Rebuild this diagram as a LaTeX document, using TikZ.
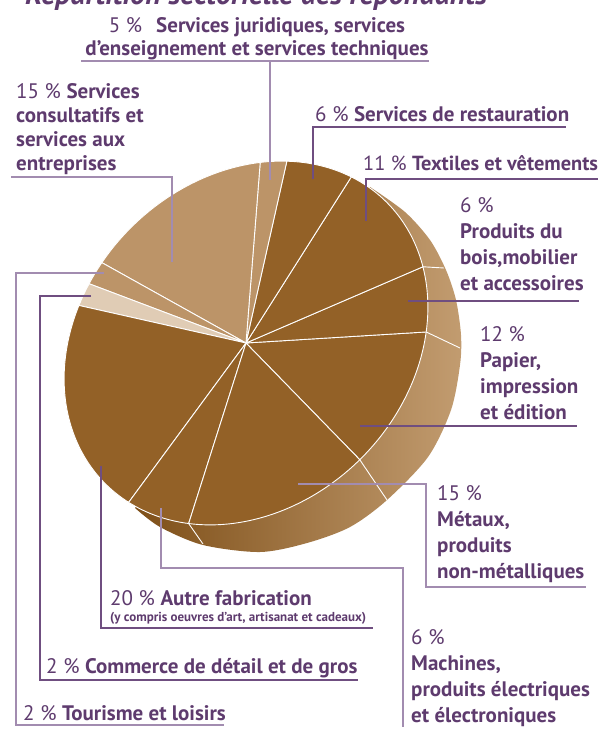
\documentclass[tikz,border=0pt]{standalone}
\usepackage{fontspec}
\setmainfont{PT Sans}
\usetikzlibrary{positioning}

\definecolor{txtpurple}{HTML}{5E3B6E}
\definecolor{leaddark}{HTML}{6F4E80}
\definecolor{leadlight}{HTML}{A28CB0}
\definecolor{piedark}{HTML}{936127}
\definecolor{pietan}{HTML}{BC9468}
\definecolor{pielight}{HTML}{E0CCB5}
\definecolor{sideleft}{HTML}{7E4F18}
\definecolor{sideright}{HTML}{C29C70}

\begin{document}
\begin{tikzpicture}[
  x=1pt, y=1pt,
  tag/.style={anchor=base west, inner sep=0pt, text=txtpurple, align=left,
              font=\fontsize{21}{26}\selectfont},
  leader/.style={line width=1.2pt, draw=leaddark},
  leaderlt/.style={line width=1.2pt, draw=leadlight},
  slice/.style={draw=white, line width=0.9pt}
]
\useasboundingbox (0,0) rectangle (603,-731);

\node[tag, font=\fontsize{30}{34}\selectfont\bfseries\itshape] (title) at (25,-4)
  {Répartition sectorielle des répondants};

% side of the disc
\shade[left color=sideleft, right color=sideright] (246,-343) -- plot[smooth] coordinates
  {(370,-187) (405,-212) (430,-240) (446,-270) (456,-300) (461,-335) (460,-365)
   (451,-410) (428,-457) (387,-500) (350,-527) (307,-543) (260,-552) (203,-545)
   (160,-527) (135,-508)} -- cycle;

% top face, slices counter clockwise
\begin{scope}[shift={(246,-343)}, rotate=45]
  \foreach \a/\b/\c in {-90.6/-47.2/piedark, -47.2/-25.9/piedark, -25.9/15.3/piedark,
      15.3/37.7/piedark, 37.7/46.2/pietan, 46.2/103.1/pietan, 103.1/110.3/pietan,
      110.3/117.4/pielight, 117.4/190.5/piedark, 190.5/212.3/piedark, 212.3/269.4/piedark}
    \filldraw[slice, fill=\c] (0,0) -- (\a:199 and 163)
      arc[start angle=\a, end angle=\b, x radius=199, y radius=163] -- cycle;
  \coordinate (edgeTB) at (-25.9:199 and 163);
  \coordinate (edgeBP) at (-47.2:199 and 163);
  \coordinate (edgePM) at (-90.6:199 and 163);
  \coordinate (edgeMM) at (212.3:199 and 163);
\end{scope}
\coordinate (sideTB) at (444,-268);
\coordinate (sideBP) at (460,-348);
\coordinate (sidePM) at (387,-500);
\coordinate (sideMM) at (203,-544);
\draw[slice] (edgeTB) -- (sideTB) (edgeBP) -- (sideBP) (edgePM) -- (sidePM) (edgeMM) -- (sideMM);

% labels (base = last line)
\node[tag, anchor=base, align=center, font=\fontsize{21}{23}\selectfont] (jur) at (257,-55)
  {5 \%\hspace{14pt}\textbf{Services juridiques, services}\\\textbf{d’enseignement et services techniques}};
\node[tag, font=\fontsize{21}{24}\selectfont] (cons) at (16,-170)
  {15 \% \textbf{Services}\\\textbf{consultatifs et}\\\textbf{services aux}\\\textbf{entreprises}};
\node[tag] (rest) at (315,-121) {6 \% \textbf{Services de restauration}};
\node[tag, font=\fontsize{20.4}{26}\selectfont] (text) at (363,-170) {11 \% \textbf{Textiles et vêtements}};
\node[tag] (bois) at (460,-290)
  {6 \%\\\textbf{Produits du}\\\textbf{bois,mobilier}\\\textbf{et accessoires}};
\node[tag] (pap) at (480,-419) {12 \%\\\textbf{Papier,}\\\textbf{impression}\\\textbf{et édition}};
\node[tag] (met) at (437,-578) {15 \%\\\textbf{Métaux,}\\\textbf{produits}\\\textbf{non-métalliques}};
\node[tag] (mach) at (411,-722)
  {6 \%\\\textbf{Machines,}\\\textbf{produits électriques}\\\textbf{et électroniques}};
\node[tag] (autre) at (110,-605) {20 \% \textbf{Autre fabrication}};
\node[tag, font=\fontsize{13}{15}\selectfont\bfseries] (autresub) at (110,-621)
  {(y compris oeuvres d’art, artisanat et cadeaux)};
\node[tag] (comm) at (46,-673) {2 \% \textbf{Commerce de détail et de gros}};
\node[tag] (tour) at (23,-720) {2 \% \textbf{Tourisme et loisirs}};

% leader lines
\coordinate (jurP) at (270,-180);
\coordinate (consP) at (172,-262);
\coordinate (restP) at (313,-179);
\coordinate (textP) at (366,-221);
\coordinate (boisP) at (408,-301);
\coordinate (papP) at (360,-426);
\coordinate (metP) at (298,-484);
\coordinate (machP) at (161,-508);
\coordinate (autreP) at (101,-466);
\coordinate (commP) at (91,-296);
\coordinate (tourP) at (104,-273);

\draw[leaderlt] (81,-61) -- (429,-61) (jurP) -- (jurP |- 0,-61);
\draw[leaderlt] (consP) |- (11,-177);
\draw[leader] (restP) |- (566,-127);
\draw[leader] (textP) |- (598,-179);
\draw[leader] (boisP) -- (579,-301);
\draw[leader] (papP) -- (577,-426);
\draw[leaderlt] (metP) -| (426,-587) -- (586,-587);
\draw[leaderlt] (machP) |- (403,-568) -- (403,-727);
\draw[leader] (autreP) |- (373,-628);
\draw[leader] (commP) -| (40,-680) -- (358,-680);
\draw[leaderlt] (tourP) -| (16,-725) -- (224,-725);
\end{tikzpicture}
\end{document}
